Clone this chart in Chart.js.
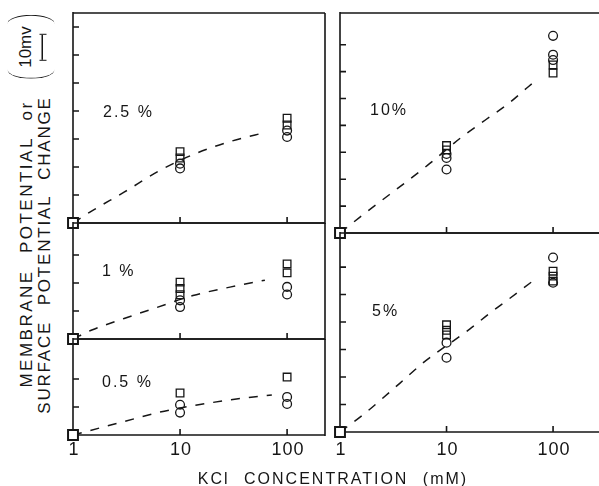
<!DOCTYPE html>
<html>
<head>
<meta charset="utf-8">
<script src="https://cdn.jsdelivr.net/npm/chart.js@4.4.0/dist/chart.umd.min.js"></script>
<style>
  html, body { margin: 0; padding: 0; background: #fff; }
  #wrap { position: relative; width: 599px; height: 486px; overflow: hidden; background: #fff;
          font-family: 'Liberation Sans', Arial, sans-serif; color: #161616; }
  canvas { position: absolute; }
  .lbl { position: absolute; white-space: nowrap; font-size: 16px; letter-spacing: 2px; transform: translateY(-50%); }
  .ytitle { position: absolute; white-space: nowrap; font-size: 17px; word-spacing: 9px;
            transform: translate(-50%, -50%) rotate(-90deg); line-height: 1; }
  .xtitle { position: absolute; white-space: nowrap; font-size: 16px; letter-spacing: 2px; word-spacing: 8px;
            transform: translate(-50%, -50%); line-height: 1; }
  #scale { position: absolute; left: 31px; top: 47px; transform: translate(-50%, -50%) rotate(-90deg);
           display: flex; align-items: center; line-height: 1; }
  #scale .pl, #scale .pr { width: 18px; height: 47px; box-sizing: border-box; border-radius: 50%; }
  #scale .pl { border-left: 1.6px solid #161616; margin-right: -8px; }
  #scale .pr { border-right: 1.6px solid #161616; margin-left: -8px; }
  #scale .mid { display: flex; flex-direction: column; align-items: center; margin: 0 1px; }
  #scale .mid span { font-size: 17px; }
  #scale .beam { width: 27px; height: 7px; margin-top: 6px; box-sizing: border-box;
                 border-left: 1.5px solid #161616; border-right: 1.5px solid #161616;
                 background: linear-gradient(#161616, #161616) center / 100% 1.5px no-repeat; }
</style>
</head>
<body>
<div id="wrap">
  <canvas id="c25"></canvas>
  <canvas id="c1"></canvas>
  <canvas id="c05"></canvas>
  <canvas id="c10"></canvas>
  <canvas id="c5"></canvas>

  <div class="ytitle" style="left:26px; top:244px; letter-spacing:2.5px;">MEMBRANE POTENTIAL or</div>
  <div class="ytitle" style="left:44px; top:255px; letter-spacing:1.8px;">SURFACE POTENTIAL CHANGE</div>
  <div id="scale"><div class="pl"></div><div class="mid"><span>10mv</span><div class="beam"></div></div><div class="pr"></div></div>

  <div class="lbl" style="left:103px; top:112px;">2.5 %</div>
  <div class="lbl" style="left:102px; top:271px;">1 %</div>
  <div class="lbl" style="left:102px; top:382px;">0.5 %</div>
  <div class="lbl" style="left:370px; top:110px;">10%</div>
  <div class="lbl" style="left:372px; top:311px;">5%</div>

  <div class="xtitle" style="left:333px; top:479px;">KCl CONCENTRATION (mM)</div>
</div>

<script>
// KCl concentration ticks (mM)
const xTicks = [1, 10, 100];

// 2.5 %  (mV)
const sq25at10 = [25.5, 23.2];
const ci25at10 = [21.2, 19.5];
const sq25at100 = [37.4, 35.0];
const ci25at100 = [33.0, 30.7];
const fitX25 = [1, 1.44, 3, 6.5, 14.4, 30, 65];
const fitY25 = [0, 3.9, 11.0, 18.8, 25.0, 29.2, 32.5];
const yTicks25 = [10, 20, 30, 40, 50, 60, 70];

// 1 %
const sq1at10 = [20.3, 18.0, 15.8];
const ci1at10 = [13.8, 11.4];
const sq1at100 = [26.8, 23.6];
const ci1at100 = [18.6, 15.9];
const fitX1 = [1, 1.5, 3, 5.8, 13.2, 30, 62];
const fitY1 = [0, 3.2, 7.3, 11, 15.5, 18.6, 21];
const yTicks1 = [10, 20, 30];

// 0.5 %
const sq05at10 = [15.0];
const ci05at10 = [10.8, 8.0];
const sq05at100 = [20.7];
const ci05at100 = [13.6, 11.1];
const fitX05 = [1, 3, 6.5, 14.4, 30, 72];
const fitY05 = [0, 4.8, 8.2, 10.7, 12.6, 14.3];
const yTicks05 = [10, 20];

// 10 %
const sq10at10 = [32.5, 30.9];
const ci10at10 = [29.4, 27.9, 23.6];
const sq10at100 = [62.5, 59.5];
const ci10at100 = [73.3, 66.3, 64.3];
const fitX10 = [1, 1.54, 6.7, 13.7, 23.5, 37.8, 58.2, 68];
const fitY10 = [0, 5.9, 25.3, 35.5, 42.2, 48, 54.3, 56.5];
const yTicks10 = [10, 20, 30, 40, 50, 60, 70];

// 5 %
const sq5at10 = [39.0, 37.0, 35.3];
const ci5at10 = [32.5, 27.0];
const sq5at100 = [58.5, 56.7, 54.9];
const ci5at100 = [63.5, 54.3];
const fitX5 = [1, 1.64, 3.66, 6.0, 16.6, 25.6, 36.2, 61, 67.5];
const fitY5 = [0, 6.2, 17.8, 25.1, 37.5, 43.3, 47.6, 54.2, 55.5];
const yTicks5 = [10, 20, 30, 40, 50, 60];

const ink = '#161616';

// draws axes frame, inward ticks and x tick labels
const framePlugin = {
    id: 'frame',
    beforeDatasetsDraw(chart, args, opts) {
        const { ctx, chartArea: a, scales: { x, y } } = chart;
        ctx.save();
        ctx.strokeStyle = ink;
        ctx.lineWidth = 1.6;
        ctx.beginPath();
        ctx.moveTo(a.left, a.top - 1); ctx.lineTo(a.left, a.bottom + 1);
        ctx.moveTo(a.left, a.top); ctx.lineTo(a.right, a.top);
        ctx.moveTo(a.left, a.bottom); ctx.lineTo(a.right, a.bottom);
        if (opts.rightEdge) { ctx.moveTo(a.right, a.top); ctx.lineTo(a.right, a.bottom + 1); }
        opts.yTicks.forEach(v => {
            const py = y.getPixelForValue(v);
            ctx.moveTo(a.left, py); ctx.lineTo(a.left + 6, py);
        });
        xTicks.slice(1).forEach(v => {
            const px = x.getPixelForValue(v);
            ctx.moveTo(px, a.bottom); ctx.lineTo(px, a.bottom - 6);
        });
        ctx.stroke();
        if (opts.labelY) {
            ctx.fillStyle = ink;
            ctx.font = '18px "Liberation Sans", Arial, sans-serif';
            if ('letterSpacing' in ctx) ctx.letterSpacing = '1px';
            ctx.textAlign = 'center';
            ctx.textBaseline = 'middle';
            xTicks.forEach(v => ctx.fillText(String(v), x.getPixelForValue(v) + 1, opts.labelY));
        }
        ctx.restore();
    }
};

function at(xv, ys) { return ys.map(v => ({ x: xv, y: v })); }

function panel(id, box, pad, xMax, yMax, yTicks, sq10, ci10, sq100, ci100, fitX, fitY, extra) {
    const cv = document.getElementById(id);
    const w = box[2] - box[0] + pad[0] + pad[2];
    const h = box[3] - box[1] + pad[1] + pad[3];
    cv.width = w; cv.height = h;
    cv.style.width = w + 'px'; cv.style.height = h + 'px';
    cv.style.left = (box[0] - pad[0]) + 'px';
    cv.style.top = (box[1] - pad[1]) + 'px';
    const canvasTop = box[1] - pad[1];
    new Chart(cv.getContext('2d'), {
        type: 'scatter',
        data: {
            datasets: [
                {
                    data: fitX.map((xv, i) => ({ x: xv, y: fitY[i] })),
                    showLine: true,
                    borderColor: ink,
                    borderWidth: 1.5,
                    borderDash: [9, 9],
                    pointRadius: 0,
                    cubicInterpolationMode: 'monotone',
                    clip: false,
                    order: 4
                },
                {
                    data: at(10, sq10).concat(at(100, sq100)),
                    pointStyle: 'rect',
                    pointRadius: 5.4,
                    borderWidth: 1.3,
                    borderColor: ink,
                    backgroundColor: 'rgba(0,0,0,0)',
                    clip: false,
                    order: 3
                },
                {
                    data: at(10, ci10).concat(at(100, ci100)),
                    pointStyle: 'circle',
                    pointRadius: 4.4,
                    borderWidth: 1.3,
                    borderColor: ink,
                    backgroundColor: 'rgba(0,0,0,0)',
                    clip: false,
                    order: 2
                },
                {
                    data: [{ x: 1, y: 0 }],
                    pointStyle: 'rect',
                    pointRadius: 7,
                    borderWidth: 2,
                    borderColor: ink,
                    backgroundColor: '#fff',
                    clip: false,
                    order: 1
                }
            ]
        },
        options: {
            responsive: false,
            animation: false,
            devicePixelRatio: 1,
            events: [],
            layout: { padding: { left: pad[0], top: pad[1], right: pad[2], bottom: pad[3] } },
            plugins: {
                legend: { display: false },
                tooltip: { enabled: false },
                frame: {
                    yTicks: yTicks,
                    rightEdge: extra.rightEdge,
                    labelY: extra.labelY ? extra.labelY - canvasTop : null
                }
            },
            scales: {
                x: { type: 'logarithmic', min: 1, max: xMax, display: false },
                y: { type: 'linear', min: 0, max: yMax, display: false }
            }
        },
        plugins: [framePlugin]
    });
}

const padTop = [12, 12, 12, 12];
const padBottom = [12, 12, 12, 36];

panel('c25', [73, 13, 325, 223], padTop, 226, 75, yTicks25,
      sq25at10, ci25at10, sq25at100, ci25at100, fitX25, fitY25, { rightEdge: true });
panel('c1', [73, 223, 325, 339], padTop, 226, 41.4, yTicks1,
      sq1at10, ci1at10, sq1at100, ci1at100, fitX1, fitY1, { rightEdge: true });
panel('c05', [73, 339, 325, 435], padBottom, 226, 34.3, yTicks05,
      sq05at10, ci05at10, sq05at100, ci05at100, fitX05, fitY05, { rightEdge: true, labelY: 450 });
panel('c10', [340, 13, 620, 233], padTop, 425, 81.8, yTicks10,
      sq10at10, ci10at10, sq10at100, ci10at100, fitX10, fitY10, { rightEdge: false });
panel('c5', [340, 233, 620, 432], padBottom, 425, 72.4, yTicks5,
      sq5at10, ci5at10, sq5at100, ci5at100, fitX5, fitY5, { rightEdge: false, labelY: 450 });
</script>
</body>
</html>
